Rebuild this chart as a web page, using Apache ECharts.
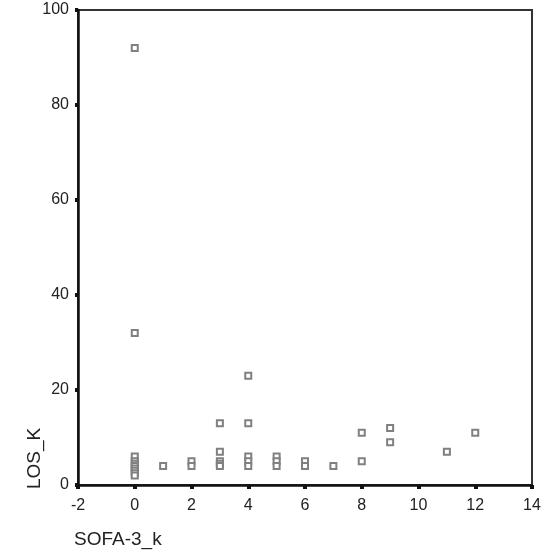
<!DOCTYPE html>
<html><head><meta charset="utf-8">
<script src="https://cdn.jsdelivr.net/npm/echarts@6/dist/echarts.min.js"></script>
<style>html,body{margin:0;padding:0;background:#fff}#c{width:550px;height:556px}</style>
</head><body><div id="c"></div>
<script>
const sofa = [0,0,0,0,0,0,0,0,0,0, 1, 2,2, 3,3,3,3,3, 4,4,4,4,4, 5,5,5, 6,6, 7, 8,8, 9,9, 11, 12];
const los  = [92,32,6,5,4.5,4,3.5,3,2.5,2, 4, 5,4, 13,7,5,4.5,4, 23,13,6,5,4, 6,5,4, 5,4, 4, 11,5, 12,9, 7, 11];
const xTicks = {min:-2, max:14, interval:2};
const yTicks = {min:0, max:100, interval:20};
const xName = 'SOFA-3_k', yName = 'LOS_K';
const pts = sofa.map((s,i)=>[s, los[i]]);
const chart = echarts.init(document.getElementById('c'));
const font = 'Liberation Sans, Arial, sans-serif';
chart.setOption({
  animation:false,
  grid:{left:78,right:18,top:10,bottom:71,show:true,borderColor:'#333',borderWidth:2,backgroundColor:'#fff'},
  xAxis:{type:'value',min:xTicks.min,max:xTicks.max,interval:xTicks.interval,
    axisLine:{show:true,onZero:false,lineStyle:{color:'#111',width:2.5}},
    axisTick:{show:true,length:4,lineStyle:{color:'#111',width:4}},
    axisLabel:{color:'#222',fontSize:16,fontFamily:font,margin:13},
    splitLine:{show:false}},
  yAxis:{type:'value',min:yTicks.min,max:yTicks.max,interval:yTicks.interval,
    axisLine:{show:true,onZero:false,lineStyle:{color:'#111',width:2.5}},
    axisTick:{show:true,length:3,lineStyle:{color:'#111',width:4}},
    axisLabel:{color:'#222',fontSize:16,fontFamily:font,margin:9},
    splitLine:{show:false}},
  graphic:[
    {type:'text',left:74,top:530,style:{text:xName,font:'19px '+font,fill:'#222'}},
    {type:'text',x:25,y:489,rotation:Math.PI/2,style:{text:yName,font:'19px '+font,fill:'#222',textAlign:'left',textVerticalAlign:'top'}}
  ],
  series:[{type:'scatter',data:pts,symbol:'rect',symbolSize:6,
    itemStyle:{color:'#fff',borderColor:'#808080',borderWidth:2,opacity:1}}]
});
</script></body></html>
